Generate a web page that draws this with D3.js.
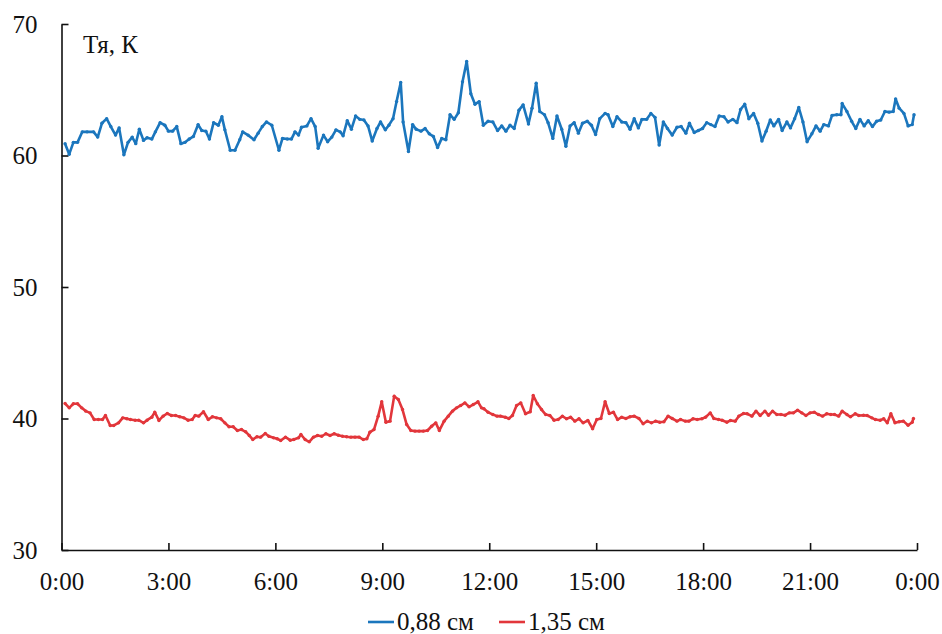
<!DOCTYPE html>
<html>
<head>
<meta charset="utf-8">
<script src="https://cdn.jsdelivr.net/npm/d3@7"></script>
<style>
    body { margin: 0; background: #fff; }
    svg text { font-family: "Liberation Serif", "Times New Roman", serif; fill: #111; }
</style>
</head>
<body>
<div id="chart"></div>
<script>
//==========================================================================================
// Data (time in minutes of the day, temperature in K)
//==========================================================================================
var xTicks = [0, 180, 360, 540, 720, 900, 1080, 1260, 1440];
var yTicks = [30, 40, 50, 60, 70];
var seriesNames = ["0,88 см", "1,35 см"];

var blueTime = [6,13,20,27,35,43,54,61,68,76,83,91,97,105,112,119,125,131,138,144,
    152,158,166,174,180,187,194,201,208,215,222,230,236,243,249,256,264,270,275,284,
    292,300,305,314,324,331,338,345,354,366,372,380,387,393,399,404,413,420,427,432,
    441,448,455,462,469,474,481,488,495,502,509,516,523,531,537,545,551,558,564,571,
    575,584,591,597,605,612,619,626,633,640,647,654,661,668,675,682,689,696,703,710,
    718,726,734,741,748,755,762,770,777,786,792,799,805,813,819,827,834,842,849,856,
    863,870,877,885,892,899,906,915,920,928,935,
    943,950,957,964,971,977,985,992,999,1006,1013,1020,1028,1036,1043,1051,1057,1065,1072,1079,
    1086,1093,1100,1107,1115,1122,1130,1137,1143,1150,1157,1165,1172,1179,1186,1193,1199,1207,1213,1221,
    1227,1234,1241,1248,1255,1263,1270,1277,1283,1291,1297,1305,1312,1314,1322,1330,1337,1344,1351,1358,
    1365,1372,1379,1386,1393,1400,1404,1410,1418,1425,1432,1435];
var blueValue = [60.9,60.1,61.0,61.0,61.8,61.8,61.8,61.4,62.45,62.8,62.2,61.55,62.1,60.05,61.0,61.4,60.9,62.0,61.15,61.35,
    61.25,61.8,62.5,62.3,61.85,61.85,62.2,60.9,61.0,61.25,61.45,62.35,61.9,61.85,61.25,62.5,62.3,62.95,61.95,60.4,
    60.4,61.2,61.8,61.55,61.2,61.7,62.2,62.55,62.3,60.4,61.3,61.25,61.25,61.8,61.55,62.15,62.25,62.8,62.2,60.55,
    61.55,61.05,61.4,61.95,61.8,61.5,62.65,62.0,63.0,62.75,62.7,62.25,61.1,62.05,62.55,61.95,62.3,62.8,64.1,65.55,
    62.55,60.3,62.35,62.0,61.85,62.05,61.65,61.45,60.6,61.3,61.2,63.1,62.75,63.25,65.6,67.15,64.7,63.9,64.1,62.3,
    62.6,62.55,61.9,62.25,61.85,62.3,62.05,63.45,63.85,62.4,63.6,65.5,63.35,63.1,62.5,61.3,63.0,62.0,60.7,62.25,
    62.5,61.7,62.45,62.6,62.3,61.6,62.8,63.2,63.1,62.2,62.95,
    62.55,62.5,62.0,62.8,62.1,62.75,62.75,63.2,62.9,60.8,62.55,62.05,61.55,62.15,62.2,61.7,62.45,61.75,61.9,62.05,
    62.5,62.35,62.2,63.0,62.95,62.55,62.75,62.5,63.5,63.9,62.8,63.2,62.45,61.1,61.85,62.7,62.25,62.75,61.9,62.55,
    62.1,62.8,63.65,62.55,61.05,61.65,62.25,61.85,62.35,62.25,63.05,63.1,63.1,63.95,63.35,62.6,62.05,62.75,62.25,62.65,
    62.2,62.6,62.7,63.35,63.3,63.35,64.3,63.6,63.2,62.25,62.35,63.1];

var redTime = [6,13,20,27,34,41,48,55,62,69,74,82,88,96,103,110,116,124,130,138,
    144,152,157,164,171,178,185,192,199,206,213,220,225,231,239,247,254,261,268,275,
    282,289,296,303,310,316,322,329,335,343,349,357,363,369,377,385,391,399,403,410,
    417,424,431,438,445,452,459,466,473,480,487,494,501,508,514,519,526,533,539,546,
    553,560,567,574,581,588,595,602,609,616,623,630,636,644,651,658,665,672,679,686,
    693,701,707,
    711,718,726,733,739,747,753,759,766,773,781,789,794,801,808,815,822,829,836,843,
    850,857,864,871,878,886,894,901,908,915,922,929,936,943,950,957,964,972,979,986,
    993,1000,1007,1014,1021,1028,1036,1042,1050,1056,1063,1070,1078,1084,1092,1098,1106,1112,1120,1126,
    1134,1140,1148,1154,1162,1169,1176,1184,1190,1197,1204,1211,1218,1225,1232,1239,1246,1253,1260,1267,
    1274,1281,1288,1295,1301,1308,1314,1322,1328,1336,1342,1350,1356,1364,1370,1378,1384,1390,1396,1403,
    1410,1417,1425,1432,1434];
var redValue = [41.14,40.81,41.12,41.12,40.81,40.56,40.43,39.92,39.92,39.92,40.23,39.47,39.47,39.67,40.05,39.98,39.92,39.87,39.87,39.67,
    39.87,40.1,40.48,39.85,40.18,40.38,40.23,40.23,40.13,40.05,39.87,39.92,40.23,40.18,40.51,39.92,40.13,40.05,39.98,39.67,
    39.37,39.37,39.09,39.16,38.99,38.71,38.4,38.61,38.58,38.86,38.65,38.53,38.46,38.33,38.58,38.35,38.4,38.53,38.78,38.4,
    38.23,38.58,38.71,38.65,38.84,38.71,38.84,38.73,38.65,38.61,38.58,38.58,38.58,38.4,38.46,38.96,39.16,40.18,41.27,39.72,
    39.8,41.7,41.44,40.68,39.54,39.09,39.04,39.04,39.04,39.09,39.41,39.67,39.09,39.8,40.18,40.56,40.81,40.99,41.19,40.89,
    41.06,41.27,40.81,
    40.74,40.48,40.3,40.18,40.18,40.1,40.0,40.23,40.99,41.19,40.36,40.51,41.75,41.12,40.68,40.3,40.23,39.87,39.92,40.18,
    39.98,40.1,39.8,39.98,39.67,39.85,39.22,39.92,40.0,41.27,40.38,40.48,39.92,40.1,40.0,40.13,40.18,40.0,39.6,39.8,
    39.67,39.8,39.72,39.75,40.18,40.0,39.8,39.92,39.8,39.8,39.98,39.92,39.98,40.1,40.43,40.0,39.92,39.87,39.72,39.85,
    39.8,40.18,40.38,40.36,40.18,40.56,40.23,40.56,40.25,40.56,40.3,40.3,40.25,40.43,40.43,40.63,40.43,40.23,40.43,40.48,
    40.3,40.18,40.36,40.3,40.3,40.18,40.56,40.3,40.13,40.36,40.23,40.25,40.23,40.05,39.92,39.87,39.98,39.67,40.36,39.67,
    39.75,39.8,39.49,39.72,40.0];

//==========================================================================================
// Chart
//==========================================================================================
(function() {
    "use strict";

    var width = 942, height = 634;
    var margin = {left: 61.5, right: 25, top: 24, bottom: 84};
    var colors = ["#1b76bd", "#e2363b"];
    var fontSize = 25;

    var svg = d3.select("#chart").append("svg")
        .attr("width", width)
        .attr("height", height);

    var x = d3.scaleLinear().domain([0, 1440]).range([margin.left, width - margin.right]);
    var y = d3.scaleLinear().domain([30, 70]).range([height - margin.bottom, margin.top]);

    //------------------------------------------------------------------------------------------
    // Axes
    //------------------------------------------------------------------------------------------
    var yAxis = d3.axisLeft(y)
        .tickValues(yTicks)
        .tickSizeInner(-7)
        .tickSizeOuter(0)
        .tickPadding(24);

    var xAxis = d3.axisBottom(x)
        .tickValues(xTicks)
        .tickSizeInner(-7)
        .tickSizeOuter(0)
        .tickPadding(22)
        .tickFormat(function(d) { return ((d / 60) % 24) + ":00"; });

    var gy = svg.append("g")
        .attr("transform", "translate(" + margin.left + ",0)")
        .call(yAxis);
    var gx = svg.append("g")
        .attr("transform", "translate(0," + y(30) + ")")
        .call(xAxis);

    [gx, gy].forEach(function(g) {
        g.selectAll("path, line").attr("stroke", "#111").attr("stroke-width", 1.6);
        g.selectAll("text")
            .attr("font-size", fontSize)
            .attr("font-family", "Liberation Serif, Times New Roman, serif")
            .attr("fill", "#111");
    });

    svg.append("text")
        .attr("x", 83)
        .attr("y", 53)
        .attr("font-size", fontSize)
        .text("Тя, К");

    //------------------------------------------------------------------------------------------
    // Series
    //------------------------------------------------------------------------------------------
    var series = [
        {name: seriesNames[0], color: colors[0], points: blueTime.map(function(t, i) { return [t, blueValue[i]]; })},
        {name: seriesNames[1], color: colors[1], points: redTime.map(function(t, i) { return [t, redValue[i]]; })}
    ];

    var line = d3.line()
        .x(function(d) { return x(d[0]); })
        .y(function(d) { return y(d[1]); });

    series.forEach(function(s) {
        svg.append("path")
            .datum(s.points)
            .attr("fill", "none")
            .attr("stroke", s.color)
            .attr("stroke-width", 2.6)
            .attr("stroke-linejoin", "round")
            .attr("d", line);

        svg.append("g").selectAll("circle")
            .data(s.points)
            .enter()
            .append("circle")
            .attr("cx", function(d) { return x(d[0]); })
            .attr("cy", function(d) { return y(d[1]); })
            .attr("r", 1.7)
            .attr("fill", s.color);
    });

    //------------------------------------------------------------------------------------------
    // Legend
    //------------------------------------------------------------------------------------------
    var legendX = [368, 499];
    var legend = svg.selectAll(".legend")
        .data(series)
        .enter()
        .append("g")
        .attr("class", "legend")
        .attr("transform", function(d, i) { return "translate(" + legendX[i] + ",622)"; });

    legend.append("line")
        .attr("x1", 0).attr("x2", 26)
        .attr("y1", 0).attr("y2", 0)
        .attr("stroke", function(d) { return d.color; })
        .attr("stroke-width", 2.6);

    legend.append("text")
        .attr("x", 29)
        .attr("y", 8)
        .attr("font-size", fontSize)
        .text(function(d) { return d.name; });
})();
</script>
</body>
</html>
